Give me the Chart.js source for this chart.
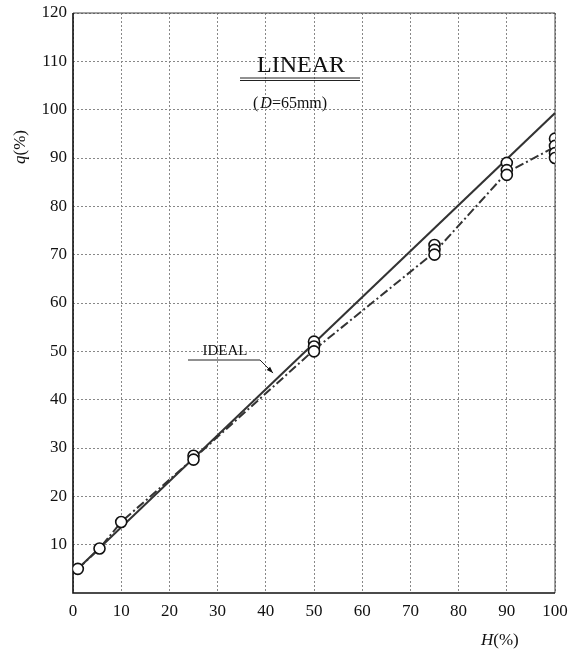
<!DOCTYPE html>
<html>
<head>
<meta charset="utf-8">
<script src="https://cdn.jsdelivr.net/npm/chart.js@4"></script>
<style>
  html, body { margin: 0; padding: 0; background: #fff; }
  #wrap { width: 569px; height: 654px; }
</style>
</head>
<body>
<div id="wrap"><canvas id="chart" width="569" height="654"></canvas></div>
<script>
// measured points (open circles)
const pointH = [1, 5.5, 10, 25, 25, 50, 50, 50, 75, 75, 75, 90, 90, 90, 100, 100, 100, 100];
const pointQ = [5, 9.2, 14.7, 28.4, 27.6, 52, 51, 50, 72, 71, 70, 89, 87.5, 86.5, 94, 92.5, 91, 90];

// measured curve (dash-dot)
const curveH = [1, 5.5, 10, 25, 50, 75, 90, 100];
const curveQ = [5, 9.2, 14.7, 27.8, 50.3, 70.5, 87, 92.3];

// ideal line
const idealH = [1, 100];
const idealQ = [5, 99.3];

const xTicks = [0, 10, 20, 30, 40, 50, 60, 70, 80, 90, 100];
const yTicks = [10, 20, 30, 40, 50, 60, 70, 80, 90, 100, 110, 120];

const FONT = '"Liberation Serif", "DejaVu Serif", serif';

const toXY = (xs, ys) => xs.map((x, i) => ({ x: x, y: ys[i] }));

const notes = {
  id: 'notes',
  beforeDatasetsDraw(chart) {
    // solid frame: left/bottom heavier, top/right thinner
    const ctx = chart.ctx;
    const a = chart.chartArea;
    ctx.save();
    ctx.setLineDash([]);
    ctx.strokeStyle = '#444';
    ctx.lineWidth = 1;
    ctx.beginPath();
    ctx.moveTo(a.left, a.top);
    ctx.lineTo(a.right, a.top);
    ctx.lineTo(a.right, a.bottom);
    ctx.stroke();
    ctx.strokeStyle = '#111';
    ctx.lineWidth = 1.6;
    ctx.beginPath();
    ctx.moveTo(a.left, a.top);
    ctx.lineTo(a.left, a.bottom);
    ctx.lineTo(a.right, a.bottom);
    ctx.stroke();
    ctx.restore();
  },
  afterDraw(chart) {
    const ctx = chart.ctx;
    const xs = chart.scales.x;
    const ys = chart.scales.y;
    ctx.save();
    ctx.fillStyle = '#111';
    ctx.strokeStyle = '#222';

    // title
    ctx.font = '24px ' + FONT;
    ctx.textAlign = 'center';
    ctx.textBaseline = 'alphabetic';
    ctx.fillText('LINEAR', 301, 72);
    ctx.lineWidth = 1;
    ctx.beginPath();
    ctx.moveTo(240, 78); ctx.lineTo(360, 78);
    ctx.moveTo(240, 80.5); ctx.lineTo(360, 80.5);
    ctx.stroke();

    // (D=65mm)
    ctx.textAlign = 'left';
    ctx.textBaseline = 'middle';
    let x = 253;
    const yy = 104;
    const parts = [['(', 'normal'], ['D', 'italic'], ['=65mm)', 'normal']];
    parts.forEach(([t, st]) => {
      ctx.font = st + ' 16px ' + FONT;
      ctx.fillText(t, x, yy);
      x += ctx.measureText(t).width + (t === '(' ? 2 : 0);
    });

    // IDEAL label with arrow
    ctx.font = '15px ' + FONT;
    ctx.textAlign = 'center';
    ctx.fillText('IDEAL', 225, 351);
    const tipX = xs.getPixelForValue(41.5);
    const tipY = ys.getPixelForValue(45.5);
    ctx.lineWidth = 1;
    ctx.beginPath();
    ctx.moveTo(188, 360);
    ctx.lineTo(260, 360);
    ctx.lineTo(tipX, tipY);
    ctx.stroke();
    const ang = Math.atan2(tipY - 360, tipX - 260);
    ctx.beginPath();
    ctx.moveTo(tipX, tipY);
    ctx.lineTo(tipX - 7 * Math.cos(ang - 0.35), tipY - 7 * Math.sin(ang - 0.35));
    ctx.lineTo(tipX - 7 * Math.cos(ang + 0.35), tipY - 7 * Math.sin(ang + 0.35));
    ctx.closePath();
    ctx.fill();

    // axis titles
    ctx.save();
    ctx.translate(21, 147);
    ctx.rotate(-Math.PI / 2);
    ctx.textAlign = 'left';
    ctx.font = 'italic 17px ' + FONT;
    const qw = ctx.measureText('q').width;
    ctx.font = 'normal 17px ' + FONT;
    const pw = ctx.measureText('(%)').width;
    let sx = -(qw + pw) / 2;
    ctx.font = 'italic 17px ' + FONT;
    ctx.fillText('q', sx, 0);
    ctx.font = 'normal 17px ' + FONT;
    ctx.fillText('(%)', sx + qw, 0);
    ctx.restore();

    ctx.textAlign = 'left';
    ctx.font = 'italic 17px ' + FONT;
    ctx.fillText('H', 481, 641);
    const hw = ctx.measureText('H').width;
    ctx.font = 'normal 17px ' + FONT;
    ctx.fillText('(%)', 481 + hw, 641);
    ctx.restore();
  }
};

new Chart(document.getElementById('chart'), {
  type: 'scatter',
  data: {
    datasets: [
      {
        label: 'IDEAL',
        type: 'line',
        data: toXY(idealH, idealQ),
        borderColor: '#333',
        borderWidth: 2,
        pointRadius: 0,
        fill: false,
        order: 3
      },
      {
        label: 'measured curve',
        type: 'line',
        data: toXY(curveH, curveQ),
        borderColor: '#333',
        borderWidth: 2,
        borderDash: [9, 3, 2, 3],
        pointRadius: 0,
        fill: false,
        order: 2
      },
      {
        label: 'measured',
        data: toXY(pointH, pointQ),
        pointRadius: 5.5,
        pointBorderWidth: 1.6,
        pointBackgroundColor: '#fff',
        pointBorderColor: '#111',
        order: 1
      }
    ]
  },
  options: {
    responsive: false,
    animation: false,
    layout: { padding: { left: 0, right: 0, top: 13, bottom: 0 } },
    plugins: {
      legend: { display: false },
      tooltip: { enabled: false }
    },
    scales: {
      x: {
        type: 'linear',
        min: 0,
        max: 100,
        afterBuildTicks: s => { s.ticks = xTicks.map(v => ({ value: v })); },
        afterFit: s => { s.height = 61; s.paddingRight = 14; s.paddingLeft = 0; },
        grid: { color: '#888', lineWidth: 1, drawTicks: false },
        border: { display: false, dash: [2, 2] },
        ticks: {
          padding: 8,
          color: '#111',
          font: { family: FONT, size: 17 },
          maxRotation: 0
        }
      },
      y: {
        type: 'linear',
        min: 0,
        max: 120,
        afterBuildTicks: s => { s.ticks = yTicks.map(v => ({ value: v })); },
        afterFit: s => { s.width = 73; s.paddingTop = 0; s.paddingBottom = 0; },
        grid: { color: '#888', lineWidth: 1, drawTicks: false },
        border: { display: false, dash: [2, 2] },
        ticks: {
          padding: 6,
          color: '#111',
          font: { family: FONT, size: 17 }
        }
      }
    }
  },
  plugins: [notes]
});
</script>
</body>
</html>
